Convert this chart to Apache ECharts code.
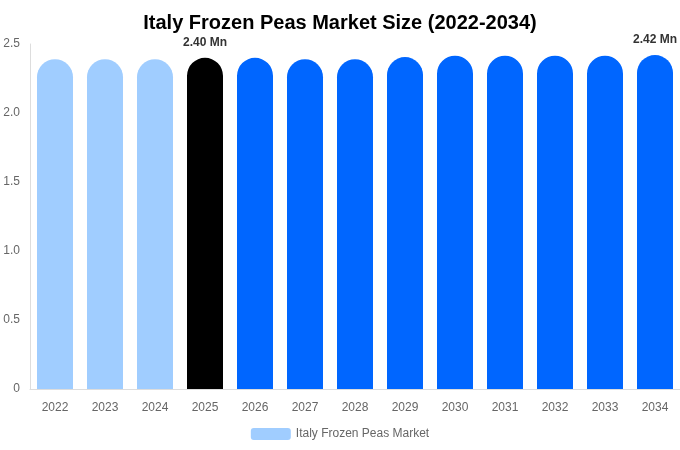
<!DOCTYPE html>
<html>
<head>
<meta charset="utf-8">
<script src="https://cdn.jsdelivr.net/npm/echarts@6/dist/echarts.min.js"></script>
<style>
  html, body { margin: 0; padding: 0; background: #fff; }
  #chart { width: 680px; height: 450px; }
</style>
</head>
<body>
<div id="chart"></div>
<script>
const years = ['2022', '2023', '2024', '2025', '2026', '2027', '2028', '2029', '2030', '2031', '2032', '2033', '2034'];
const values = [2.39, 2.39, 2.39, 2.40, 2.40, 2.39, 2.39, 2.405, 2.415, 2.415, 2.415, 2.415, 2.42];
const labelled = ['2025', '2034'];
const seriesName = 'Italy Frozen Peas Market';

const colorFor = (year) => {
  if (+year < 2025) return '#a0cdff';
  if (+year === 2025) return '#000000';
  return '#0066ff';
};

const chart = echarts.init(document.getElementById('chart'));

chart.setOption({
  animation: false,
  title: {
    text: 'Italy Frozen Peas Market Size (2022-2034)',
    left: 'center',
    top: 8,
    textStyle: { fontSize: 20, fontWeight: 'bold', color: '#000', fontFamily: 'Liberation Sans, Arial, sans-serif' },
  },
  legend: {
    bottom: 5,
    itemWidth: 40,
    itemHeight: 12,
    textStyle: { color: '#666', fontSize: 12, fontFamily: 'Liberation Sans, Arial, sans-serif' },
    data: [{ name: seriesName, itemStyle: { color: '#a0cdff' } }],
  },
  grid: { left: 30, right: 0, top: 44, bottom: 61 },
  xAxis: {
    type: 'category',
    data: years,
    axisLine: { lineStyle: { color: '#ddd' } },
    axisTick: { show: false },
    axisLabel: { color: '#666', fontSize: 12, margin: 13, fontFamily: 'Liberation Sans, Arial, sans-serif' },
  },
  yAxis: {
    type: 'value',
    min: 0,
    max: 2.5,
    interval: 0.5,
    axisLine: { show: true, lineStyle: { color: '#ddd' } },
    splitLine: { show: false },
    axisLabel: {
      color: '#666',
      fontSize: 12,
      margin: 10,
      fontFamily: 'Liberation Sans, Arial, sans-serif',
      formatter: (val) => (val === 0 ? '0' : val.toFixed(1)),
    },
  },
  series: [
    {
      name: seriesName,
      type: 'bar',
      barWidth: 36,
      data: values.map((v, i) => ({
        value: v,
        itemStyle: { color: colorFor(years[i]), borderRadius: [18, 18, 0, 0] },
        label: {
          show: labelled.includes(years[i]),
          position: 'top',
          distance: 9,
          formatter: (p) => p.value.toFixed(2) + ' Mn',
          fontWeight: 'bold',
          fontSize: 12,
          color: '#333',
          fontFamily: 'Liberation Sans, Arial, sans-serif',
        },
      })),
    },
  ],
});
</script>
</body>
</html>
